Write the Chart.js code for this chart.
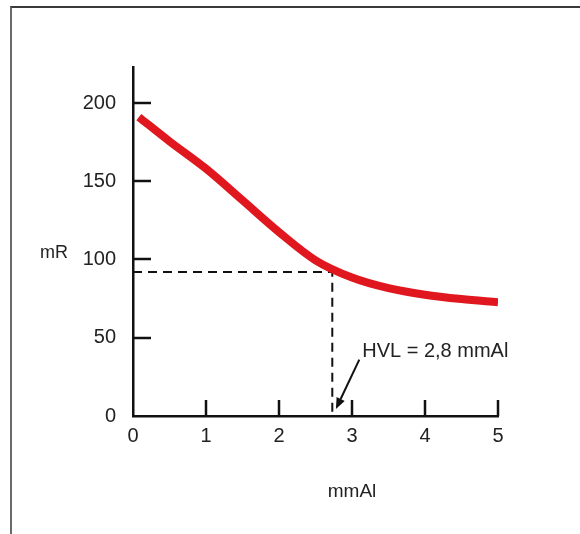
<!DOCTYPE html>
<html><head><meta charset="utf-8">
<script src="https://cdn.jsdelivr.net/npm/chart.js@4.4.0/dist/chart.umd.min.js"></script>
<style>
html,body{margin:0;padding:0;background:#fff;}
#wrap{position:relative;width:580px;height:534px;overflow:hidden;}
#frame{position:absolute;left:10px;top:6px;width:580px;height:540px;border-top:2px solid #3a3a3a;border-left:2px solid #6a6a6a;}
canvas{position:absolute;left:0;top:0;}
</style></head><body>
<div id="wrap"><div id="frame"></div><canvas id="c" width="580" height="534"></canvas></div>
<script>
// ---- data ----
const THICKNESS = [0.08, 0.5, 1, 1.5, 2, 2.5, 3, 3.5, 4, 4.5, 5];        // mmAl
const EXPOSURE  = [191, 175.5, 158, 137.8, 117.5, 99.5, 88.5, 81.7, 77.5, 74.7, 72.6]; // mR
const X_TICKS = [0, 1, 2, 3, 4, 5];
const Y_TICKS = [0, 50, 100, 150, 200];
const Y_MAX = 223;
const HVL_X = 2.73;      // where the dashed guide meets the axis
const HVL_Y = 92;        // half of the initial exposure (dashed guide)
const ARROW_FROM = [3.10, 36];
const ARROW_TO   = [2.78, 4.5];
const LABEL_AT   = [3.14, 41];
const HVL_LABEL = 'HVL = 2,8 mmAl';
const X_TITLE = 'mmAl';
const Y_TITLE = 'mR';

const FONT = '"Liberation Sans", Arial, sans-serif';

const decor = {
  id: 'decor',
  afterDraw(chart) {
    const {ctx, scales: {x, y}} = chart;
    ctx.save();
    ctx.strokeStyle = '#111';
    ctx.lineWidth = 2.5;
    Y_TICKS.filter(v => v > 0).forEach(v => {
      const py = Math.round(y.getPixelForValue(v));
      ctx.beginPath(); ctx.moveTo(x.left, py); ctx.lineTo(x.left + 18, py); ctx.stroke();
    });
    X_TICKS.filter(v => v > 0).forEach(v => {
      const px = Math.round(x.getPixelForValue(v));
      ctx.beginPath(); ctx.moveTo(px, y.bottom); ctx.lineTo(px, y.bottom - 16); ctx.stroke();
    });
    // arrow
    const x0 = x.getPixelForValue(ARROW_FROM[0]), y0 = y.getPixelForValue(ARROW_FROM[1]);
    const x1 = x.getPixelForValue(ARROW_TO[0]), y1 = y.getPixelForValue(ARROW_TO[1]);
    const ang = Math.atan2(y1 - y0, x1 - x0);
    const hl = 11, hw = 4.5;
    const bx = x1 - hl * Math.cos(ang), by = y1 - hl * Math.sin(ang);
    ctx.lineWidth = 2;
    ctx.beginPath(); ctx.moveTo(x0, y0); ctx.lineTo(bx, by); ctx.stroke();
    ctx.fillStyle = '#111';
    ctx.beginPath();
    ctx.moveTo(x1, y1);
    ctx.lineTo(bx + hw * Math.sin(ang), by - hw * Math.cos(ang));
    ctx.lineTo(bx - hw * Math.sin(ang), by + hw * Math.cos(ang));
    ctx.closePath(); ctx.fill();
    // texts
    ctx.fillStyle = '#222';
    ctx.textBaseline = 'middle';
    ctx.textAlign = 'left';
    ctx.font = '20px ' + FONT;
    ctx.fillText(HVL_LABEL, x.getPixelForValue(LABEL_AT[0]), y.getPixelForValue(LABEL_AT[1]));
    ctx.font = '18px ' + FONT;
    ctx.fillText(Y_TITLE, 40, 253);
    ctx.textAlign = 'center';
    ctx.font = '19px ' + FONT;
    ctx.fillText(X_TITLE, 352, 492);
    ctx.restore();
  }
};

new Chart(document.getElementById('c'), {
  type: 'line',
  data: {
    datasets: [
      {
        data: THICKNESS.map((t, i) => ({x: t, y: EXPOSURE[i]})),
        borderColor: '#e0171f',
        borderWidth: 8,
        pointRadius: 0,
        cubicInterpolationMode: 'monotone',
        fill: false,
        order: 0
      },
      {
        data: [{x: 0, y: HVL_Y}, {x: HVL_X, y: HVL_Y}, {x: HVL_X, y: 0}],
        borderColor: '#111',
        borderWidth: 2,
        borderDash: [9, 6],
        pointRadius: 0,
        tension: 0,
        fill: false,
        order: 1
      }
    ]
  },
  options: {
    responsive: false,
    devicePixelRatio: 1,
    animation: false,
    layout: {padding: {top: 67, right: 82, left: 0, bottom: 0}},
    plugins: {legend: {display: false}, tooltip: {enabled: false}, title: {display: false}},
    scales: {
      x: {
        type: 'linear',
        min: 0, max: 5,
        afterBuildTicks: s => { s.ticks = X_TICKS.map(v => ({value: v})); },
        afterFit: s => { s.height = 118; },
        grid: {display: false},
        border: {display: true, color: '#111', width: 2.5},
        ticks: {color: '#222', font: {family: FONT, size: 20}, padding: 0, maxRotation: 0}
      },
      y: {
        type: 'linear',
        min: 0, max: Y_MAX,
        afterBuildTicks: s => { s.ticks = Y_TICKS.map(v => ({value: v})); },
        afterFit: s => { s.width = 133; },
        grid: {display: false},
        border: {display: true, color: '#111', width: 2.5},
        ticks: {color: '#222', font: {family: FONT, size: 20}, padding: 9}
      }
    }
  },
  plugins: [decor]
});
</script>
</body></html>
